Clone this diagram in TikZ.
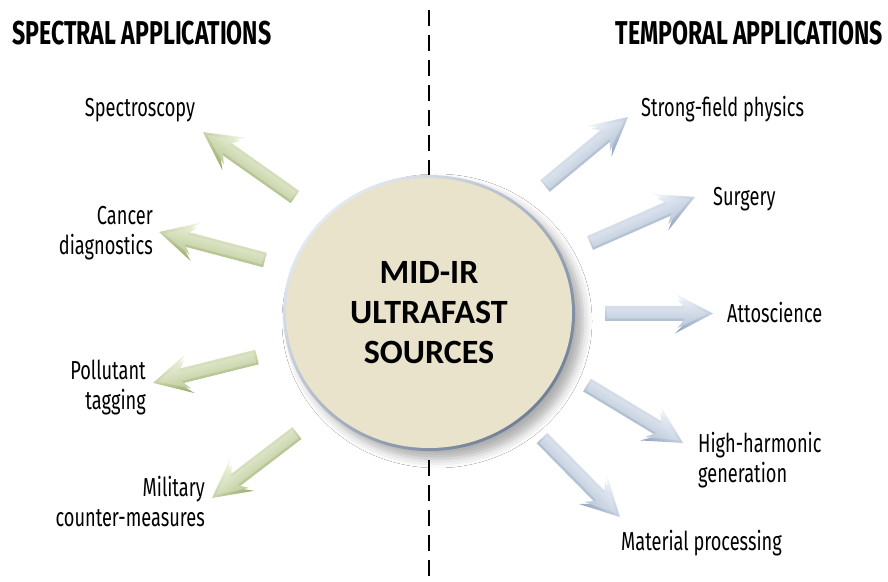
\documentclass[tikz,border=0pt]{standalone}
\usepackage{fontspec}
\usetikzlibrary{shapes.geometric,shadows.blur}
\newfontfamily\agency[FakeStretch=0.7]{Fira Sans}
\newfontfamily\carlito{Carlito}
\definecolor{gLight}{HTML}{F4F8E6}
\definecolor{gMain}{HTML}{CDDCA8}
\definecolor{gDark}{HTML}{98AA68}
\definecolor{bLight}{HTML}{F7FAFD}
\definecolor{bMain}{HTML}{CAD8EA}
\definecolor{bDark}{HTML}{8FA3BF}
\definecolor{beige}{HTML}{E9E3CC}
\definecolor{ringL}{HTML}{E4EAF2}
\definecolor{ringD}{HTML}{6F8098}
% #1 x, #2 y (image coords), #3 angle, #4 length, #5 colour prefix, #6 extra transform
\newcommand\fatarrow[6]{%
\begin{scope}[transform canvas={shift={(#1,581-#2)},rotate=#3,#6}]
\shade[top color=#5Light,bottom color=#5Dark]
  (0,7.5) -- ({#4-26},7.5) -- ({#4-38},20) -- (#4,0) -- ({#4-38},-20) -- ({#4-26},-7.5) -- (0,-7.5) -- cycle;
\shade[top color=#5Main!45!white,middle color=#5Main,bottom color=#5Main!92!black]
  (2,5) -- ({#4-28},5) -- ({#4-35.5},14.5) -- ({#4-5},0) -- ({#4-35.5},-14.5) -- ({#4-28},-5) -- (2,-5) -- cycle;
\end{scope}}
\tikzset{
  label/.style={font=\agency\fontsize{26}{30}\selectfont, inner sep=0pt},
  header/.style={font=\agency\bfseries\fontsize{33}{33}\selectfont, inner sep=0pt},
}
\begin{document}
\begin{tikzpicture}[x=1pt,y=1pt]
\useasboundingbox[fill=white] (0,0) rectangle (888,581);
% divider
\coordinate (dtop) at (429,571);
\coordinate (dbot) at (429,0);
\draw[line width=2.4pt, dash pattern=on 16pt off 9pt] (dtop) -- (dbot);
% central source
\node[ellipse, minimum width=292pt, minimum height=276pt, inner sep=0pt,
  top color=ringL, bottom color=ringD, shading angle=45,
  blur shadow={shadow xshift=8pt, shadow yshift=-8pt, shadow blur radius=9pt, shadow opacity=32}] (src) at (429,268) {};
\fill[beige] (src.center) ellipse [x radius=143pt, y radius=135pt];
\node[font=\carlito\bfseries\fontsize{34}{40}\selectfont, align=center] (title) at (src.center) {MID-IR\\ULTRAFAST\\SOURCES};
% headers
\node[header, anchor=base west] (hspec) at (12,536) {SPECTRAL APPLICATIONS};
\node[header, anchor=base east] (htemp) at (883,536) {TEMPORAL APPLICATIONS};
% spectral arrows
\fatarrow{295}{197}{144.8}{112.6}{g}{yscale=-1}
\fatarrow{265}{260}{165.2}{109.6}{g}{yscale=-1}
\fatarrow{257}{357}{194.0}{107.2}{g}{yscale=-1}
\fatarrow{297}{433}{217.4}{107.0}{g}{yscale=-1}
% temporal arrows
\fatarrow{545}{186}{39.7}{107.9}{b}{}
\fatarrow{590}{243}{23.7}{114.6}{b}{}
\fatarrow{605}{313.5}{0}{108}{b}{}
\fatarrow{587}{385}{-31.1}{112.2}{b}{}
\fatarrow{542}{438}{-45.4}{111}{b}{}
% spectral labels
\node[label, anchor=base] (spec) at (140,464) {Spectroscopy};
\node[label, anchor=east, align=right] (cancer) at (153,348) {Cancer\\diagnostics};
\node[label, anchor=east, align=right] (poll) at (146,193) {Pollutant\\tagging};
\node[label, anchor=east, align=right] (mil) at (205,79) {Military\\counter-measures};
% temporal labels
\node[label, anchor=base west] (strong) at (641,464) {Strong-field physics};
\node[label, anchor=base west] (surg) at (713,375) {Surgery};
\node[label, anchor=base west] (atto) at (727,258) {Attoscience};
\node[label, anchor=west, align=left] (hhg) at (698,121) {High-harmonic\\generation};
\node[label, anchor=base west] (mat) at (621,31) {Material processing};
\end{tikzpicture}
\end{document}
